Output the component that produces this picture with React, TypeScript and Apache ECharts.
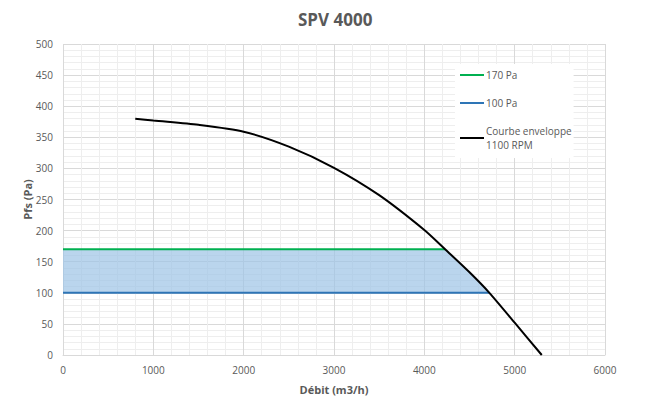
import React, { useEffect, useRef } from "react";
import * as echarts from "echarts";

const curveX = [800, 1000, 1500, 2000, 2500, 3000, 3500, 4000, 4230, 4500, 4720, 5000, 5300];
const curveY = [380, 377, 370, 359, 335, 301, 257, 201, 170, 133, 100, 52, 0];
const upperX = [0, 4230];
const upperY = [170, 170];
const lowerX = [0, 4720];
const lowerY = [100, 100];
const bandX = [0, 4230, 4400, 4500, 4620, 4720];
const bandTop = [170, 170, 147, 133, 116, 100];
const bandBottom = [100, 100, 100, 100, 100, 100];
const legendNames = ["170 Pa", "100 Pa", "Courbe enveloppe\n1100 RPM"];

const zip = (xs: number[], ys: number[]) => xs.map((x, i) => [x, ys[i]]);

export default function App() {
  const ref = useRef<HTMLDivElement>(null);
  useEffect(() => {
    document.body.style.margin = "0";
    const chart = echarts.init(ref.current!, undefined, { renderer: "svg" });
    const font = "'Open Sans', 'Liberation Sans', sans-serif";
    const bandPoly = [
      ...zip(bandX, bandTop),
      ...zip(bandX, bandBottom).reverse(),
    ];
    chart.setOption({
      animation: false,
      backgroundColor: "#ffffff",
      textStyle: { fontFamily: font },
      title: {
        text: "SPV 4000",
        left: 293,
        top: 6,
        textStyle: { fontSize: 17, fontWeight: "bold", color: "#595959", fontFamily: font },
      },
      grid: { left: 63, right: 46, top: 44, bottom: 57 },
      legend: {
        orient: "vertical",
        left: 455,
        top: 64,
        backgroundColor: "#ffffff",
        padding: [4, 2, 6, 5],
        itemGap: 14,
        itemWidth: 24,
        itemHeight: 2,
        icon: "rect",
        data: legendNames,
        textStyle: { fontSize: 10, color: "#595959", fontFamily: font, lineHeight: 14, padding: [0, 0, 0, -3] },
      },
      xAxis: {
        type: "value",
        min: 0,
        max: 6000,
        interval: 1000,
        name: "Débit (m3/h)",
        nameLocation: "middle",
        nameGap: 29,
        nameMoveOverlap: false,
        nameTextStyle: { fontSize: 11, fontWeight: "bold", color: "#595959" },
        axisLine: { show: true, lineStyle: { color: "#d9d9d9" } },
        axisTick: { show: false },
        axisLabel: { fontSize: 10, color: "#595959", margin: 10, formatter: (v: number) => String(v) },
        splitLine: { show: true, lineStyle: { color: "#d9d9d9" } },
        minorTick: { show: false, splitNumber: 5 },
        minorSplitLine: { show: true, lineStyle: { color: "#eeeeee" } },
      },
      yAxis: {
        type: "value",
        min: 0,
        max: 500,
        interval: 50,
        name: "Pfs (Pa)",
        nameLocation: "middle",
        nameGap: 30,
        nameMoveOverlap: false,
        nameTextStyle: { fontSize: 11, fontWeight: "bold", color: "#595959" },
        axisLine: { show: false },
        axisTick: { show: false },
        axisLabel: { fontSize: 10, color: "#595959", margin: 10, formatter: (v: number) => String(v) },
        splitLine: { show: true, lineStyle: { color: "#d9d9d9" } },
        minorTick: { show: false, splitNumber: 5 },
        minorSplitLine: { show: true, lineStyle: { color: "#eeeeee" } },
      },
      series: [
        {
          name: "band",
          type: "custom",
          silent: true,
          data: [[bandX[0], bandBottom[0]]],
          renderItem: (_params: any, api: any) => ({
            type: "polygon",
            shape: { points: bandPoly.map((p) => api.coord(p)) },
            style: { fill: "rgba(157,195,230,0.7)" },
          }),
          z: 1,
        },
        {
          name: legendNames[0],
          type: "line",
          data: zip(upperX, upperY),
          symbol: "none",
          color: "#00b050",
          lineStyle: { color: "#00b050", width: 2 },
          z: 3,
        },
        {
          name: legendNames[1],
          type: "line",
          data: zip(lowerX, lowerY),
          symbol: "none",
          color: "#2e75b6",
          lineStyle: { color: "#2e75b6", width: 2 },
          z: 3,
        },
        {
          name: legendNames[2],
          type: "line",
          data: zip(curveX, curveY),
          symbol: "none",
          smooth: 0.25,
          color: "#000000",
          lineStyle: { color: "#000000", width: 2 },
          z: 4,
        },
      ],
    });
    return () => chart.dispose();
  }, []);
  return <div ref={ref} style={{ width: 651, height: 412 }} />;
}
